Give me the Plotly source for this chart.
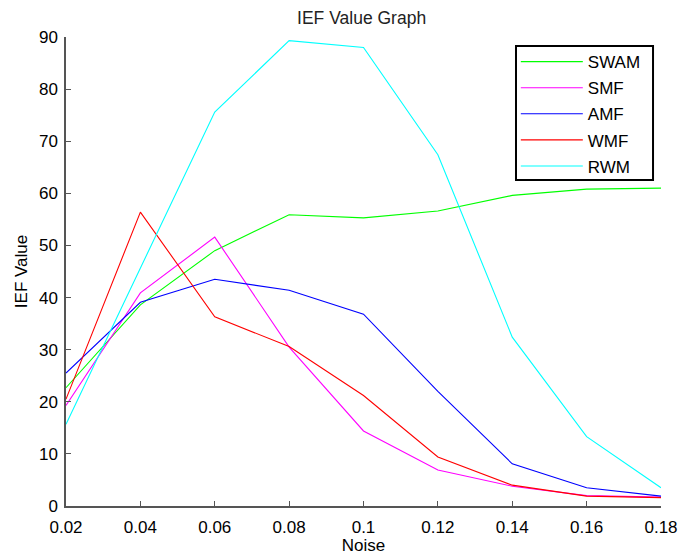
import plotly.graph_objects as go

noise = [0.02, 0.04, 0.06, 0.08, 0.10, 0.12, 0.14, 0.16, 0.18]
swam = [22.7, 38.6, 49.0, 55.9, 55.3, 56.6, 59.6, 60.8, 61.0]
smf = [19.3, 40.9, 51.6, 30.5, 14.4, 6.9, 3.8, 2.0, 1.7]
amf = [25.5, 39.1, 43.5, 41.4, 36.8, 22.0, 8.1, 3.5, 1.9]
wmf = [20.5, 56.4, 36.3, 30.6, 21.2, 9.4, 4.0, 1.9, 1.6]
rwm = [15.7, 45.6, 75.6, 89.3, 88.0, 67.4, 32.4, 13.3, 3.5]

series = [("SWAM", swam, "#00ff00"), ("SMF", smf, "#ff00ff"),
          ("AMF", amf, "#0000ff"), ("WMF", wmf, "#ff0000"),
          ("RWM", rwm, "#00ffff")]

xtick_vals = [0.02, 0.04, 0.06, 0.08, 0.10, 0.12, 0.14, 0.16, 0.18]
xtick_text = ["0.02", "0.04", "0.06", "0.08", "0.1", "0.12", "0.14", "0.16", "0.18"]
ytick_vals = [0, 10, 20, 30, 40, 50, 60, 70, 80, 90]

fig = go.Figure()
for name, vals, col in series:
    fig.add_trace(go.Scatter(x=noise, y=vals, mode="lines", name=name,
                             legendgroup=name,
                             line=dict(color=col, width=1.1)))

# legend frame (MATLAB-style box)
fig.add_shape(type="rect", xref="paper", yref="paper",
              x0=0.7563, x1=0.9866, y0=0.6951, y1=0.9808,
              line=dict(color="black", width=2), fillcolor="white", layer="above")

font = "Liberation Sans, Arial, Helvetica, sans-serif"
axcol = "#555"
fig.update_layout(
    width=681, height=555,
    margin=dict(l=66, r=20, t=37, b=49, autoexpand=False),
    paper_bgcolor="white", plot_bgcolor="white",
    font=dict(family=font, size=17, color="black"),
    title=dict(text="IEF Value Graph", x=0.531, xanchor="center", y=0.968, yanchor="middle",
               font=dict(size=17.5, family=font, color="#222")),
    showlegend=True,
    legend=dict(x=0.756, y=0.985, xanchor="left", yanchor="top",
                borderwidth=0, bgcolor="rgba(0,0,0,0)",
                font=dict(size=17, family=font), tracegroupgap=1,
                itemwidth=62),
    xaxis=dict(range=[0.02, 0.18], tickvals=xtick_vals, ticktext=xtick_text,
               showgrid=False, zeroline=False, showline=True, linecolor=axcol,
               linewidth=1.5, ticks="inside", ticklen=5, tickcolor=axcol,
               ticklabelstandoff=5, automargin=False,
               title=dict(text="Noise", font=dict(size=17), standoff=0),
               tickfont=dict(size=17)),
    yaxis=dict(range=[0, 90], tickvals=ytick_vals,
               showgrid=False, zeroline=False, showline=True, linecolor=axcol,
               linewidth=1.5, ticks="inside", ticklen=5, tickcolor=axcol,
               ticklabelstandoff=3, automargin=False,
               title=dict(text="IEF Value", font=dict(size=17), standoff=7),
               tickfont=dict(size=17)),
)

fig.write_html("out.html", config={"displayModeBar": False},
               post_script="document.body.style.margin='0';")
